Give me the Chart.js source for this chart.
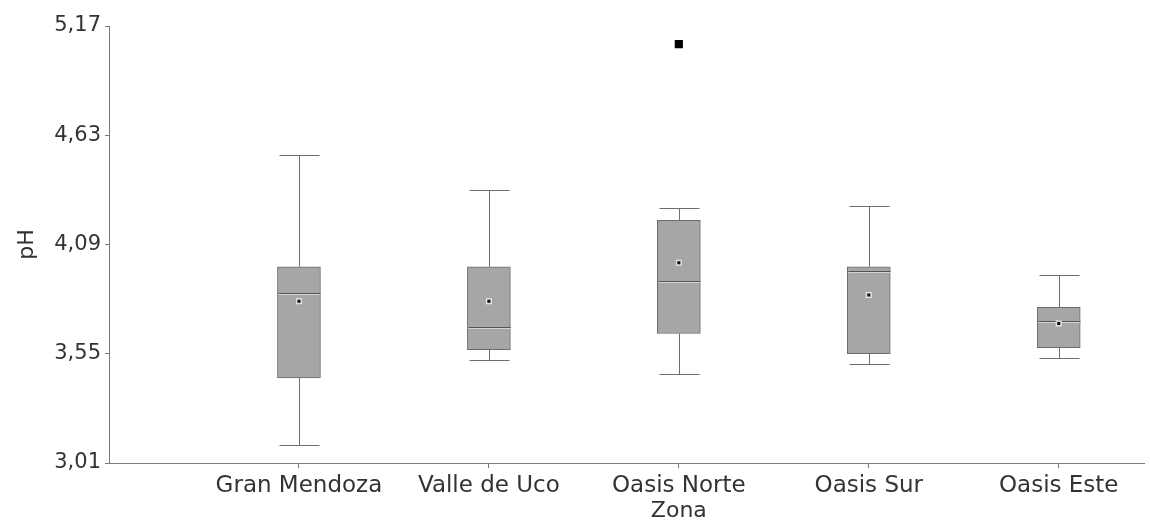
<!DOCTYPE html>
<html>
<head>
<meta charset="utf-8">
<script src="https://cdn.jsdelivr.net/npm/chart.js@4.4.1/dist/chart.umd.min.js"></script>
<style>
  html, body { margin: 0; padding: 0; background: #fff; }
</style>
</head>
<body>
<canvas id="boxchart" width="1150" height="523"></canvas>
<script>
// Box plot pH por zona
const zonas = ['Gran Mendoza', 'Valle de Uco', 'Oasis Norte', 'Oasis Sur', 'Oasis Este'];
const minimo  = [3.10, 3.52, 3.45, 3.50, 3.53];
const q1      = [3.43, 3.57, 3.65, 3.55, 3.58];
const mediana = [3.85, 3.68, 3.91, 3.96, 3.71];
const media   = [3.81, 3.81, 4.00, 3.84, 3.70];
const q3      = [3.98, 3.98, 4.21, 3.98, 3.78];
const maximo  = [4.53, 4.36, 4.27, 4.28, 3.94];
// outliers: index of zona (1-based) and value
const atipicoZona  = [3];
const atipicoValor = [5.08];
const yTicks = [3.01, 3.55, 4.09, 4.63, 5.17];

const textColor = '#333';
const axisColor = '#7a7a7a';
const font = 'DejaVu Sans';

// whiskers and median lines, drawn right after the boxes
const bigotes = {
  id: 'bigotes',
  afterDatasetDraw(chart, args) {
    if (args.index !== 0) return;
    const { ctx, scales: { x, y } } = chart;
    const px = v => Math.round(v) + 0.5;
    ctx.save();
    ctx.lineWidth = 1;
    zonas.forEach((z, i) => {
      const cx = px(x.getPixelForValue(i + 1));
      const half = 20;
      const yMax = px(y.getPixelForValue(maximo[i]));
      const yMin = px(y.getPixelForValue(minimo[i]));
      const yQ3 = y.getPixelForValue(q3[i]);
      const yQ1 = y.getPixelForValue(q1[i]);
      ctx.strokeStyle = '#6e6e6e';
      ctx.beginPath();
      ctx.moveTo(cx, yQ3); ctx.lineTo(cx, yMax);
      ctx.moveTo(cx - half, yMax); ctx.lineTo(cx + half, yMax);
      ctx.moveTo(cx, yQ1); ctx.lineTo(cx, yMin);
      ctx.moveTo(cx - half, yMin); ctx.lineTo(cx + half, yMin);
      ctx.stroke();

      // median: dark line with a light one under it
      const yMed = px(y.getPixelForValue(mediana[i]));
      ctx.strokeStyle = '#555';
      ctx.beginPath();
      ctx.moveTo(cx - 21, yMed); ctx.lineTo(cx + 21, yMed);
      ctx.stroke();
      ctx.strokeStyle = '#d4d4d4';
      ctx.beginPath();
      ctx.moveTo(cx - 21, yMed + 1); ctx.lineTo(cx + 21, yMed + 1);
      ctx.stroke();
    });
    ctx.restore();
  }
};

// x axis title, centred under the middle zone like the original
const tituloX = {
  id: 'tituloX',
  afterDraw(chart) {
    const { ctx, scales: { x } } = chart;
    ctx.save();
    ctx.font = '22px "' + font + '"';
    ctx.fillStyle = textColor;
    ctx.textAlign = 'center';
    ctx.textBaseline = 'middle';
    ctx.fillText('Zona', x.getPixelForValue((zonas.length + 1) / 2), 511);
    ctx.restore();
  }
};

new Chart(document.getElementById('boxchart'), {
  type: 'bar',
  data: {
    datasets: [
      {
        label: 'Caja',
        data: zonas.map((z, i) => ({ x: i + 1, y: [q1[i], q3[i]] })),
        backgroundColor: '#a6a6a6',
        borderColor: '#6b6b6b',
        borderWidth: 1,
        borderSkipped: false,
        barThickness: 43,
        order: 2
      },
      {
        type: 'scatter',
        label: 'Media',
        data: zonas.map((z, i) => ({ x: i + 1, y: media[i] })),
        pointStyle: 'rect',
        radius: 3.2,
        backgroundColor: '#111',
        borderColor: 'rgba(255,255,255,0.8)',
        borderWidth: 1.5,
        order: 1
      },
      {
        type: 'scatter',
        label: 'Atipicos',
        data: atipicoZona.map((z, i) => ({ x: z, y: atipicoValor[i] })),
        pointStyle: 'rect',
        radius: 5.8,
        backgroundColor: '#000',
        borderWidth: 0,
        order: 1
      }
    ]
  },
  options: {
    responsive: false,
    animation: false,
    layout: { padding: { left: 10, top: 26, right: 0, bottom: 0 } },
    plugins: {
      legend: { display: false },
      tooltip: { enabled: false }
    },
    scales: {
      x: {
        type: 'linear',
        min: 0,
        max: 5.45,
        offset: false,
        afterBuildTicks: s => { s.ticks = zonas.map((z, i) => ({ value: i + 1 })); },
        afterFit: s => { s.height = 60; },
        ticks: {
          callback: v => zonas[v - 1],
          autoSkip: false,
          maxRotation: 0,
          padding: 4,
          color: textColor,
          font: { family: font, size: 23 }
        },
        grid: { offset: false, drawOnChartArea: false, tickLength: 5, color: axisColor },
        border: { color: axisColor, width: 1 }
      },
      y: {
        min: 3.01,
        max: 5.17,
        afterBuildTicks: s => { s.ticks = yTicks.map(v => ({ value: v })); },
        afterFit: s => { s.width = 99; },
        ticks: {
          callback: v => v.toFixed(2).replace('.', ','),
          padding: 4,
          color: textColor,
          font: { family: font, size: 21 }
        },
        grid: { drawOnChartArea: false, tickLength: 4, color: axisColor },
        border: { color: axisColor, width: 1 },
        title: {
          display: true,
          text: 'pH',
          color: textColor,
          font: { family: font, size: 22 },
          padding: { top: 4, bottom: 0 }
        }
      }
    }
  },
  plugins: [bigotes, tituloX]
});
</script>
</body>
</html>
